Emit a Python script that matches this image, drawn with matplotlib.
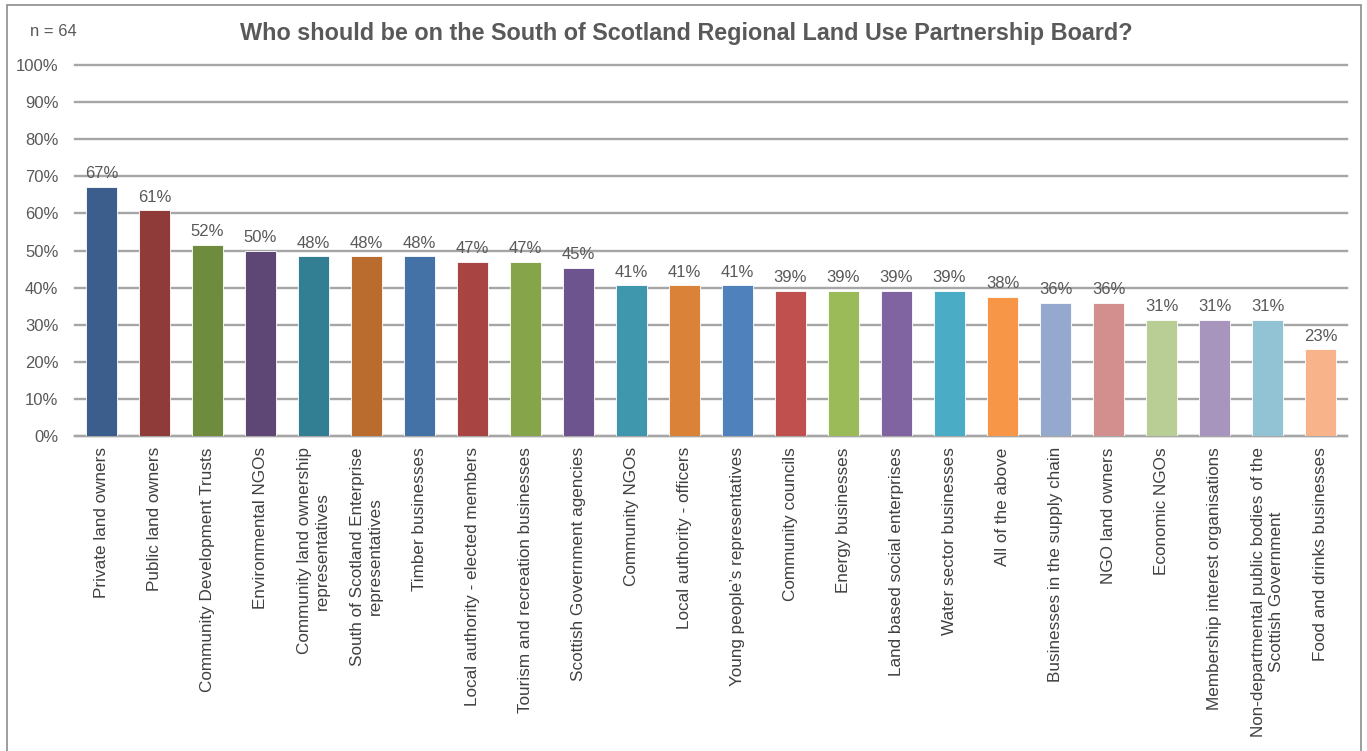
import matplotlib.pyplot as plt
from matplotlib.patches import Rectangle

plt.rcParams['font.family'] = ['Liberation Sans', 'DejaVu Sans']

groups = ['Private land owners', 'Public land owners', 'Community Development Trusts',
          'Environmental NGOs', 'Community land ownership\nrepresentatives',
          'South of Scotland Enterprise\nrepresentatives', 'Timber businesses',
          'Local authority - elected members', 'Tourism and recreation businesses',
          'Scottish Government agencies', 'Community NGOs', 'Local authority - officers',
          'Young people\u2019s representatives', 'Community councils', 'Energy businesses',
          'Land based social enterprises', 'Water sector businesses', 'All of the above',
          'Businesses in the supply chain', 'NGO land owners', 'Economic NGOs',
          'Membership interest organisations',
          'Non-departmental public bodies of the\nScottish Government',
          'Food and drinks businesses']

# share of respondents (%), n = 64
share = [67.2, 60.9, 51.6, 50.0, 48.4, 48.4, 48.4, 46.9, 46.9, 45.3, 40.6, 40.6,
         40.6, 39.1, 39.1, 39.1, 39.1, 37.5, 35.9, 35.9, 31.3, 31.3, 31.3, 23.4]

colours = ['#3B5E8C', '#8E3B3A', '#6F8B3D', '#5E4775', '#327F93', '#BA6C2E',
           '#4471A6', '#A84442', '#86A44A', '#6E548F', '#3E97AD', '#DA8238',
           '#4F81BD', '#C0504D', '#9BBB59', '#8064A2', '#4BACC6', '#F79646',
           '#95A9CF', '#D28F8E', '#B9CE95', '#A795BE', '#92C3D4', '#F9B38A']

grey = '#595959'

fig = plt.figure(figsize=(13.67, 7.51), dpi=100)
ax = fig.add_axes([0.0549, 0.4194, 0.9305, 0.4940])

x = range(len(share))
bars = ax.bar(x, share, width=0.58, color=colours, edgecolor='white', linewidth=0.6, zorder=3)
for b, v in zip(bars, share):
    ax.annotate('{:.0f}%'.format(v), (b.get_x() + b.get_width() / 2, v),
                xytext=(0, 4), textcoords='offset points', ha='center', va='bottom',
                fontsize=12, color=grey)

ax.set_xlim(-0.5, len(share) - 0.5)
ax.set_ylim(0, 100)
ax.set_yticks(range(0, 101, 10))
ax.set_yticklabels(['{}%'.format(t) for t in range(0, 101, 10)])
ax.yaxis.grid(True, color='#A6A6A6', linewidth=1.7, zorder=0)
for gl in ax.get_ygridlines():
    gl.set_clip_on(False)
ax.set_axisbelow(True)
ax.set_xticks(list(x))
ax.set_xticklabels(groups, rotation=90, multialignment='center')
ax.tick_params(axis='x', length=0, pad=8, labelsize=12.3, labelcolor='#404040')
ax.tick_params(axis='y', length=0, pad=12, labelsize=12, labelcolor=grey)
for s in ['top', 'right', 'left']:
    ax.spines[s].set_visible(False)
ax.spines['bottom'].set_color('#A6A6A6')
ax.spines['bottom'].set_linewidth(1.7)

fig.text(0.502, 0.956, 'Who should be on the South of Scotland Regional Land Use Partnership Board?',
         ha='center', va='center', fontsize=16.8, fontweight='bold', color=grey)
fig.text(0.022, 0.958, 'n = 64', ha='left', va='center', fontsize=12, color=grey)

# chart frame
fig.patches.append(Rectangle((0.005, -0.02), 0.9905, 1.014, transform=fig.transFigure,
                             fill=False, edgecolor='#8C8C8C', linewidth=1.2))

fig.savefig('out.png', dpi=100)
